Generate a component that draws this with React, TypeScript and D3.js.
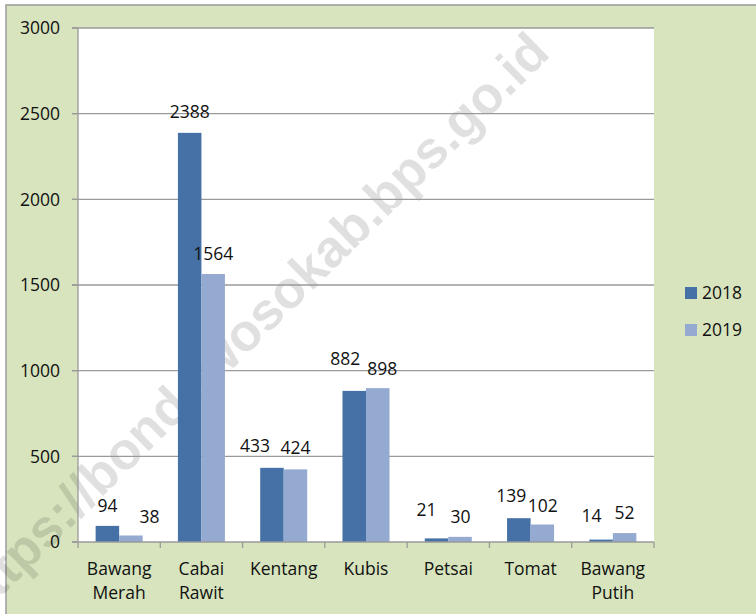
import React from "react";
import * as d3 from "d3";

const categories: string[][] = [
  ["Bawang", "Merah"],
  ["Cabai", "Rawit"],
  ["Kentang"],
  ["Kubis"],
  ["Petsai"],
  ["Tomat"],
  ["Bawang", "Putih"],
];
const series2018 = [94, 2388, 433, 882, 21, 139, 14];
const series2019 = [38, 1564, 424, 898, 30, 102, 52];
const seriesNames = ["2018", "2019"];
const yTicks = [0, 500, 1000, 1500, 2000, 2500, 3000];

// layout-only: manual nudges of the data labels (dx, dy in px), as placed in the original
const labelNudge2018: [number, number][] = [[0, 0], [0, -1], [-17, -1.5], [-9, -12], [-10, -8], [-7.5, -2.5], [-9.5, -4]];
const labelNudge2019: [number, number][] = [[18.5, 1.3], [0, 0], [0, -1], [4.5, 0.7], [0.5, 0.5], [0.5, 1], [0, 0.3]];

const W = 756;
const H = 614;
const plot = { left: 78, right: 654, top: 28, bottom: 542 };
const colors = ["#4571a6", "#95aad1"];
const FONT = "'Open Sans', sans-serif";
const FS = 17.5;

export default function App() {
  const keys = categories.map((c) => c.join(" "));
  const x = d3.scaleBand<string>().domain(keys).range([plot.left, plot.right]).paddingInner(0).paddingOuter(0);
  const y = d3.scaleLinear().domain([0, 3000]).range([plot.bottom, plot.top]);
  const band = x.bandwidth();
  const barW = band / 3.5;
  const inner = d3.scaleBand<string>().domain(seriesNames).range([band / 2 - barW, band / 2 + barW]);
  const data = [series2018, series2019];
  const nudges = [labelNudge2018, labelNudge2019];

  return (
    <svg width={W} height={H} style={{ position: "absolute", left: 0, top: 0 }} fontFamily={FONT}>
      <rect x={6} y={5} width={W + 10} height={H + 10} fill="#d7e4bd" stroke="#a0a0a0" strokeWidth={1.6} />
      <rect x={plot.left} y={plot.top} width={plot.right - plot.left} height={plot.bottom - plot.top} fill="#ffffff" />
      {/* watermark */}
      <text
        transform={`translate(552,55) rotate(-44.5)`}
        textAnchor="end"
        fontFamily="'Liberation Sans', Arial, sans-serif"
        fontWeight="bold"
        fontSize={52.5}
        fill="#000"
        fillOpacity={0.12}
      >
        https://bondowosokab.bps.go.id
      </text>
      {/* gridlines + y ticks */}
      {yTicks.map((t) => (
        <g key={t}>
          {t > 0 && (
            <line x1={plot.left - 6} x2={plot.right} y1={y(t)} y2={y(t)} stroke="#9a9a9a" strokeWidth={1.3} />
          )}
          <line x1={plot.left - 6} x2={plot.left} y1={y(t)} y2={y(t)} stroke="#9a9a9a" strokeWidth={1.3} />
          <text x={60} y={y(t)} dy="0.36em" textAnchor="end" fontSize={FS} fill="#111">
            {t}
          </text>
        </g>
      ))}
      {/* bars */}
      {keys.map((k, i) =>
        data.map((s, j) => {
          const bx = (x(k) as number) + (inner(seriesNames[j]) as number);
          const by = y(s[i]);
          return <rect key={k + j} x={bx} y={by} width={inner.bandwidth()} height={plot.bottom - by} fill={colors[j]} />;
        })
      )}
      {/* axes */}
      <line x1={plot.left} x2={plot.left} y1={plot.top} y2={plot.bottom} stroke="#9a9a9a" strokeWidth={1.3} />
      <line x1={plot.left - 6} x2={plot.right} y1={plot.bottom} y2={plot.bottom} stroke="#9a9a9a" strokeWidth={1.3} />
      {keys.map((k) => (
        <line key={"t" + k} x1={x(k)} x2={x(k)} y1={plot.bottom} y2={plot.bottom + 6} stroke="#9a9a9a" strokeWidth={1.3} />
      ))}
      <line x1={plot.right} x2={plot.right} y1={plot.bottom} y2={plot.bottom + 6} stroke="#9a9a9a" strokeWidth={1.3} />
      {/* value labels */}
      {keys.map((k, i) =>
        data.map((s, j) => {
          const cx = (x(k) as number) + (inner(seriesNames[j]) as number) + inner.bandwidth() / 2;
          const [dx, dy] = nudges[j][i];
          return (
            <text key={"v" + k + j} x={cx + dx} y={y(s[i]) - 14 + dy} textAnchor="middle" fontSize={FS} fill="#111">
              {s[i]}
            </text>
          );
        })
      )}
      {/* category labels */}
      {categories.map((c, i) => (
        <text key={"c" + i} x={(x(keys[i]) as number) + band / 2} y={575} textAnchor="middle" fontSize={FS} fill="#111">
          {c.map((line, li) => (
            <tspan key={li} x={(x(keys[i]) as number) + band / 2} dy={li === 0 ? 0 : 23.5}>
              {line}
            </tspan>
          ))}
        </text>
      ))}
      {/* legend */}
      {seriesNames.map((n, j) => (
        <g key={"l" + n} transform={`translate(685,${287 + j * 37})`}>
          <rect x={0} y={0} width={12} height={12} fill={colors[j]} />
          <text x={17} y={6} dy="0.36em" fontSize={FS} fill="#111">
            {n}
          </text>
        </g>
      ))}
    </svg>
  );
}
